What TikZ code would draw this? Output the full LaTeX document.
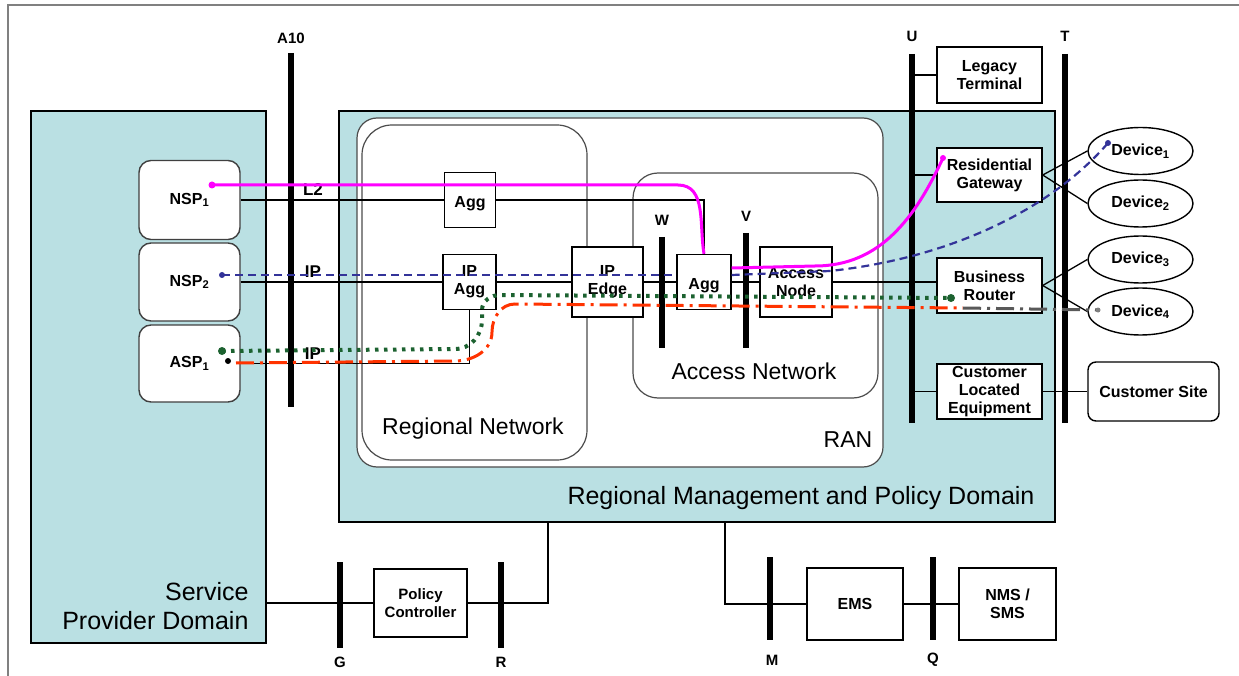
\documentclass[tikz,border=0pt]{standalone}
\usepackage{fontspec}
\setmainfont{Liberation Sans}
\usetikzlibrary{shapes.geometric}

\definecolor{domainblue}{RGB}{186,224,227}
\definecolor{pathpink}{RGB}{255,0,255}
\definecolor{pathblue}{RGB}{51,51,153}
\definecolor{pathgreen}{RGB}{28,98,48}
\definecolor{pathorange}{RGB}{255,51,0}

\begin{document}
\begin{tikzpicture}[x=1pt,y=-1pt,
  box/.style={draw, line width=1.4pt, fill=white, align=center, inner sep=0pt,
    font=\bfseries\fontsize{16}{18}\selectfont},
  spbox/.style={box, draw=black!75, rounded corners=12pt},
  device/.style={box, ellipse, minimum width=105pt, minimum height=47pt},
  domainbox/.style={draw, line width=1.4pt, fill=domainblue},
  cloud/.style={draw=black!70, line width=1.2pt, fill=white, rounded corners=#1},
  cloud/.default=20pt,
  bar/.style={line width=5.5pt},
  barlabel/.style={font=\bfseries\fontsize{15}{18}\selectfont},
  iflabel/.style={font=\bfseries\fontsize{17}{18}\selectfont},
  biglabel/.style={font=\fontsize{23}{28}\selectfont},
  domlabel/.style={font=\fontsize{25}{29}\selectfont, align=right},
  link/.style={line width=1.6pt},
  pinkpath/.style={pathpink, line width=3pt},
  bluepath/.style={pathblue, line width=2.2pt, dash pattern=on 8pt off 5pt},
  greenpath/.style={pathgreen, line width=4pt, dash pattern=on 3.5pt off 5.5pt},
  orangepath/.style={pathorange, line width=3pt, dash pattern=on 18pt off 6pt on 3pt off 6pt},
  graypath/.style={black!65, line width=3pt, dash pattern=on 18pt off 6pt on 3pt off 6pt}
]
\useasboundingbox (0,0) rectangle (1239,676);
\draw[black!50, line width=2.5pt] (8,676) -- (8,5) -- (1239,5);

% domains
\node[domainbox, minimum width=235pt, minimum height=532pt] (spd) at (148.5,377) {};
\node[domainbox, minimum width=716pt, minimum height=411pt] (rmpd) at (697,316.5) {};
\draw[cloud] (357,118) rectangle (883,467);
\draw[cloud=30pt] (362,125) rectangle (587,460);
\draw[cloud=25pt] (633,173) rectangle (878,398);

\node[domlabel, anchor=east] (spdname) at (252,606) {Service\\Provider Domain};
\node[domlabel, anchor=east] (rmpdname) at (1038,498) {Regional Management and Policy Domain};
\node[biglabel] (ranname) at (848,440) {RAN};
\node[biglabel] (regname) at (473,429) {Regional Network};
\node[biglabel] (accname) at (754,371) {Access Network};

% reference points
\draw[bar] (291,53) -- (291,407);
\draw[bar] (662,237) -- (662,348);
\draw[bar] (746,233) -- (746,348);
\draw[bar] (912,54) -- (912,423);
\draw[bar] (1065,54) -- (1065,423);
\draw[bar] (340,562) -- (340,648);
\draw[bar] (501,562) -- (501,648);
\draw[bar] (770,557) -- (770,640);
\draw[bar] (933,557) -- (933,640);
\coordinate (ubar) at (912,54);
\coordinate (pcup) at (548,522);
\coordinate (emsup) at (725,522);

\node[barlabel] (a10) at (291,38) {A10};
\node[barlabel] (wlab) at (662,220) {W};
\node[barlabel] (vlab) at (746,216) {V};
\node[barlabel] (ulab) at (912,36) {U};
\node[barlabel] (tlab) at (1065,36) {T};
\node[barlabel] (glab) at (340,662) {G};
\node[barlabel] (rlab) at (501,662) {R};
\node[barlabel] (mlab) at (772,660) {M};
\node[barlabel] (qlab) at (933,660) {Q};

% boxes
\node[spbox, minimum width=101pt, minimum height=79pt] (nsp1) at (189.5,200) {NSP\textsubscript{1}};
\node[spbox, minimum width=101pt, minimum height=78pt] (nsp2) at (189.5,282) {NSP\textsubscript{2}};
\node[spbox, minimum width=101pt, minimum height=77pt] (asp1) at (189.5,363.5) {ASP\textsubscript{1}};

\node[box, minimum width=51pt, minimum height=55pt] (agg1) at (470,200) {~\\Agg};
\node[box, minimum width=53pt, minimum height=55pt] (ipagg) at (469.5,282) {IP\\Agg};
\node[box, minimum width=71pt, minimum height=70pt] (ipedge) at (607.5,282) {IP\\Edge};
\node[box, minimum width=54pt, minimum height=55pt] (agg2) at (704,282) {~\\Agg};
\node[box, minimum width=72pt, minimum height=70pt] (an) at (796,282) {Access\\Node};

\node[box, minimum width=105pt, minimum height=56pt] (lt) at (989.5,75) {Legacy\\Terminal};
\node[box, minimum width=105pt, minimum height=54pt] (rg) at (989.5,175) {Residential\\Gateway};
\node[box, minimum width=105pt, minimum height=55pt] (br) at (989.5,285.5) {Business\\Router};
\node[box, minimum width=105pt, minimum height=55pt] (cle) at (989.5,391.5) {Customer\\Located\\Equipment};
\node[box, rounded corners=8pt, minimum width=131pt, minimum height=59pt] (site) at (1153.5,391.5) {Customer Site};

\node[device] (dev1) at (1140.5,151) {Device\textsubscript{1}};
\node[device] (dev2) at (1140.5,203.5) {Device\textsubscript{2}};
\node[device] (dev3) at (1140.5,259.5) {Device\textsubscript{3}};
\node[device] (dev4) at (1140.5,311.5) {Device\textsubscript{4}};

\node[box, font=\bfseries\fontsize{15}{18}\selectfont, minimum width=93pt, minimum height=68pt] (pc) at (420.5,603) {Policy\\Controller};
\node[box, minimum width=96pt, minimum height=72pt] (ems) at (855,604) {EMS};
\node[box, minimum width=97pt, minimum height=72pt] (nms) at (1007.5,604) {NMS /\\SMS};

% connectors
\draw[link] (nsp1.east) -- (agg1.west);
\draw[link] (agg1.east) -| (agg2.north);
\draw[link] (nsp2.east) -- (ipagg.west);
\draw[link] (ipagg.east) -- (ipedge.west);
\draw[link] (ipedge.east) -- (agg2.west);
\draw[link] (agg2.east) -- (an.west);
\draw[link] (an.east) -- (an.east -| br.west);
\draw[link] (asp1.east) -| (ipagg.south);
\draw[link] (lt.west -| ubar) -- (lt.west);
\draw[link] (rg.west -| ubar) -- (rg.west);
\draw[link] (cle.west -| ubar) -- (cle.west);
\draw[link] (cle.east) -- (site.west);
\draw[link, line width=1.3pt] (rg.east) -- (dev1.west);
\draw[link, line width=1.3pt] (rg.east) -- (dev2.west);
\draw[link, line width=1.3pt] (br.east) -- (dev3.west);
\draw[link, line width=1.3pt] (br.east) -- (dev4.west);
\draw[link] (spd.east |- pc.west) -- (pc.west);
\draw[link] (pc.east) -| (pcup);
\draw[link] (emsup) |- (ems.west);
\draw[link] (ems.east) -- (nms.west);

\node[iflabel] (l2lab) at (313,190) {L2};
\node[iflabel] (iplab1) at (313,272) {IP};
\node[iflabel] (iplab2) at (313,354) {IP};

% service paths
\coordinate (pinkstart) at (212,185);
\coordinate (pinkend) at (943,158);
\coordinate (bluestart) at (222,275);
\coordinate (blueend) at (1108,143);
\coordinate (greenstart) at (222,351);
\coordinate (greenend) at (951,298);
\coordinate (orangestart) at (228,361);
\coordinate (grayend) at (1098,310);

\draw[pinkpath] (pinkstart) -- (678,185) to[out=0,in=100] (agg2.north);
\draw[pinkpath] (agg2.east |- 0,268) -- (815,266) to[out=0,in=245] (pinkend);
\fill[pathpink] (pinkstart) circle (3.5pt) (pinkend) circle (3pt);

\draw[bluepath] (bluestart) -- (bluestart -| agg2.west);
\draw[bluepath] (agg2.east |- 0,275) -- (830,271) .. controls (950,258) and (1050,210) .. (blueend);
\fill[pathblue] (bluestart) circle (3pt) (blueend) circle (3pt);

\draw[greenpath] (greenstart) -- (455,349) to[out=0,in=270] (482,320) -- (482,310) to[out=90,in=180] (500,295) -- (greenend);
\fill[pathgreen] (greenstart) circle (4pt) (greenend) circle (4pt);

\draw[orangepath] (236,363) -- (455,361) to[out=0,in=270] (492,332) to[out=90,in=180] (515,304) -- (963,308);
\draw[graypath] (963,308) -- (grayend);
\fill (orangestart) circle (3pt);
\fill[black!50] (grayend) circle (2.5pt);
\end{tikzpicture}
\end{document}
